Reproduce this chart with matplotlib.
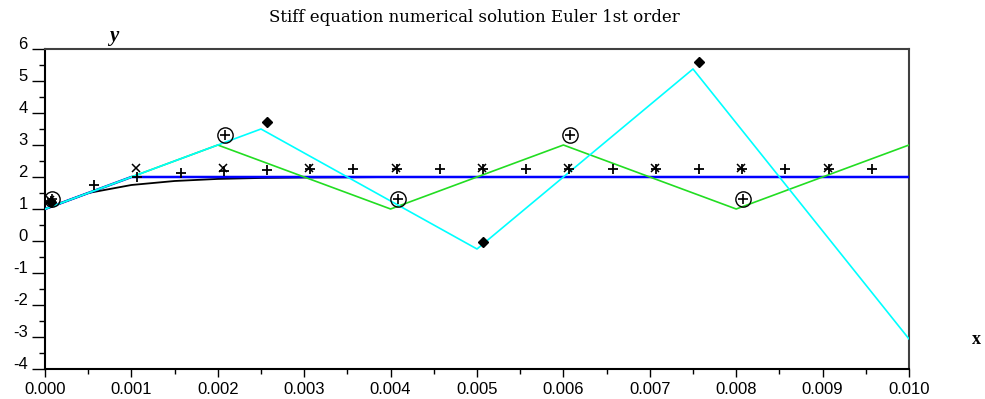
import matplotlib
matplotlib.use('Agg')
import matplotlib.pyplot as plt
from matplotlib.ticker import MultipleLocator
from matplotlib.transforms import ScaledTranslation
from matplotlib.patches import Rectangle

plt.rcParams['axes.unicode_minus'] = False

# Euler, step 0.0005 (black line, "+" markers)
x_h0005 = [0.0, 0.0005, 0.001, 0.0015, 0.002, 0.0025, 0.003, 0.0035, 0.004, 0.0045,
           0.005, 0.0055, 0.006, 0.0065, 0.007, 0.0075, 0.008, 0.0085, 0.009, 0.0095, 0.010]
y_h0005 = [1.0, 1.5, 1.75, 1.875, 1.94, 1.97, 1.985, 1.99, 2.0, 2.0,
           2.0, 2.0, 2.0, 2.0, 2.0, 2.0, 2.0, 2.0, 2.0, 2.0, 2.0]
# Euler, step 0.001 (blue line, "x" markers)
x_h001 = [0.0, 0.001, 0.002, 0.003, 0.004, 0.005, 0.006, 0.007, 0.008, 0.009, 0.010]
y_h001 = [1.0, 2.0, 2.0, 2.0, 2.0, 2.0, 2.0, 2.0, 2.0, 2.0, 2.0]
# Euler, step 0.002 (green line, circled plus)
x_h002 = [0.0, 0.002, 0.004, 0.006, 0.008, 0.010]
y_h002 = [1.0, 3.0, 1.0, 3.0, 1.0, 3.0]
# Euler, step 0.0025 (cyan line, diamonds)
x_h0025 = [0.0, 0.0025, 0.005, 0.0075, 0.010]
y_h0025 = [1.0, 3.5, -0.25, 5.375, -3.06]

x_ticks = [0.000, 0.001, 0.002, 0.003, 0.004, 0.005, 0.006, 0.007, 0.008, 0.009, 0.010]
x_tick_labels = ['0.000', '0.001', '0.002', '0.003', '0.004', '0.005', '0.006',
                 '0.007', '0.008', '0.009', '0.010']
y_ticks = [-4, -3, -2, -1, 0, 1, 2, 3, 4, 5, 6]
y_tick_labels = ['-4', '-3', '-2', '-1', '0', '1', '2', '3', '4', '5', '6']

title = 'Stiff equation numerical solution Euler 1st order'

W, H = 985, 399
fig = plt.figure(figsize=(W / 100, H / 100), dpi=100)
ax = fig.add_axes([45 / W, 1 - 369 / H, 864 / W, 320 / H])

ax.plot(x_h0005, y_h0005, color='black', lw=1.3, zorder=2)
ax.plot(x_h001, y_h001, color='#0000ff', lw=1.8, zorder=3)
ax.plot(x_h002, y_h002, color='#22dd22', lw=1.2, zorder=4)
ax.plot(x_h0025, y_h0025, color='#00ffff', lw=1.2, zorder=5)


def off(dx, dy):
    return ax.transData + ScaledTranslation(dx / 100, dy / 100, fig.dpi_scale_trans)


marker_clip = Rectangle((0, 0), 0.992, 1.0, transform=ax.transAxes, visible=False)
ax.add_patch(marker_clip)

arts = []
arts += ax.plot(x_h0005, y_h0005, ls='none', marker='+', ms=7, mew=1.3, color='black',
                transform=off(6, 8), zorder=6)
arts += ax.plot(x_h001, y_h001, ls='none', marker='x', ms=5.5, mew=1.1, color='black',
                transform=off(5, 9), zorder=6)
arts += ax.plot(x_h002, y_h002, ls='none', marker='o', ms=11, mfc='none', mec='black',
                mew=1.0, transform=off(7, 10), zorder=6)
arts += ax.plot(x_h002, y_h002, ls='none', marker='+', ms=7, mew=1.2, color='black',
                transform=off(7, 10), zorder=6)
arts += ax.plot(x_h0025, y_h0025, ls='none', marker='D', ms=5.5, color='black',
                transform=off(6, 7), zorder=6)
for a in arts:
    a.set_clip_path(marker_clip)

ax.set_xlim(0, 0.010)
ax.set_ylim(-4, 6)

tick_font = dict(family='Liberation Sans', size=12)
ax.set_xticks(x_ticks, x_tick_labels, **tick_font)
ax.set_yticks(y_ticks, y_tick_labels, va='baseline', **tick_font)
ax.xaxis.set_minor_locator(MultipleLocator(0.0005))
ax.yaxis.set_minor_locator(MultipleLocator(0.5))

ax.tick_params(axis='y', which='major', direction='out', length=9.5, width=1.0, pad=3)
ax.tick_params(axis='y', which='minor', direction='out', length=4.5, width=1.0)
ax.tick_params(axis='x', which='major', direction='out', length=6, width=1.0, pad=3)
ax.tick_params(axis='x', which='minor', direction='out', length=3.5, width=1.0)

for s in ['left', 'bottom']:
    ax.spines[s].set_linewidth(1.5)
    ax.spines[s].set_color('black')
for s in ['top', 'right']:
    ax.spines[s].set_linewidth(1.5)
    ax.spines[s].set_color('#404040')

fig.text(474 / W, 1 - 18 / H, title, ha='center', va='center',
         family='DejaVu Serif', size=12)
fig.text(114 / W, 1 - 36 / H, 'y', ha='center', va='center',
         family='Liberation Serif', style='italic', weight='bold', size=15)
fig.text(976 / W, 1 - 340 / H, 'x', ha='center', va='center',
         family='Liberation Serif', weight='bold', size=13)

fig.savefig('out.png', dpi=100)
